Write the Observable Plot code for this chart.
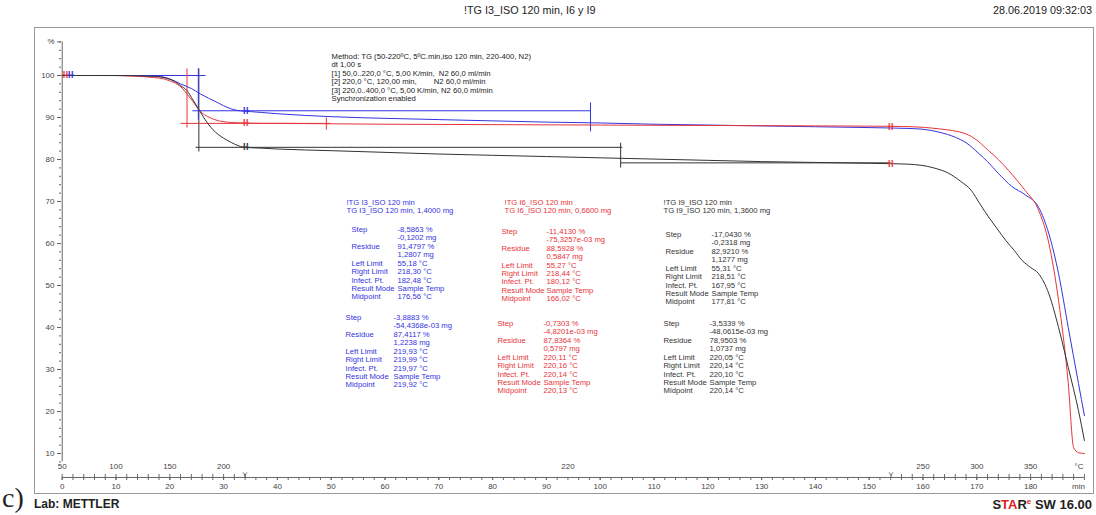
<!DOCTYPE html>
<html><head><meta charset="utf-8">
<script src="https://cdn.jsdelivr.net/npm/d3@7"></script>
<script src="https://cdn.jsdelivr.net/npm/@observablehq/plot@0.6"></script>
<style>
body{margin:0;width:1096px;height:515px;position:relative;background:#fff;overflow:hidden;font-family:"Liberation Sans",Arial,sans-serif;color:#222}
#title{position:absolute;left:464px;top:4px;font-size:10.8px}
#date{position:absolute;right:4px;top:4px;font-size:10.8px}
#frame{position:absolute;left:34px;top:27px;width:1058px;height:465px;border:1px solid #9a9a9a}
#chart{position:absolute;left:0;top:26px}
#c{position:absolute;left:2px;top:484px;font-family:"Liberation Serif",serif;font-size:28px;line-height:28px}
#lab{position:absolute;left:34px;top:497px;font-size:12px;font-weight:bold}
#star{position:absolute;right:4px;top:497px;font-size:13px;font-weight:bold}
#star .r{color:#e02020}
#star sup{font-size:8px;color:#e02020}
</style></head><body>
<div id="title">!TG I3_ISO 120 min, I6 y I9</div>
<div id="date">28.06.2019 09:32:03</div>
<div id="frame"></div>
<div id="chart"></div>
<div id="c">c)</div>
<div id="lab">Lab: METTLER</div>
<div id="star">S<span class="r">TA</span>R<sup>e</sup> SW 16.00</div>
<script>
// ---- data: time (min) and mass (%) ----
const seriesNames = ["I3", "I6", "I9"];
const colors = ["#3434e0", "#e8343a", "#333333"];

const tI3 = [0,5,10,13,16,18.3,20,22,24,25.7,27.2,28.8,30,31.3,32.5,33.8,35,37,40,45,50,60,70,80,90,100,110,120,130,140,150,154,157,160,163,166,168,170.4,172,174,176.5,179,181.5,183.4,185.2,187,188.9,190];
const pI3 = [100,100,100,99.97,99.9,99.75,99.2,98.0,96.9,95.6,94.6,93.6,92.8,92.1,91.7,91.5,91.4,91.2,90.9,90.5,90.2,89.8,89.5,89.2,88.9,88.7,88.4,88.2,88.0,87.8,87.6,87.5,87.4,87.2,86.5,85.3,84.0,81.4,79.5,76.7,73.6,71.6,68.6,62.3,52.8,40,26.7,19];

const tI6 = [0,5,10,12.7,15,17,18.9,20,21.4,22.3,23.2,24.3,25.5,26.5,27.6,28.8,30,31.5,33.8,35,37,40,50,60,80,100,120,140,154,158,163,168,170,172.2,174,175.9,177.5,179,181.5,183.4,185.2,187,188,188.9,190];
const pI6 = [100,100,99.98,99.9,99.75,99.5,99.2,98.7,97.9,97.0,95.6,93.8,91.7,90.6,89.9,89.3,89.0,88.8,88.7,88.65,88.6,88.6,88.5,88.4,88.3,88.2,88.1,88.0,87.9,87.8,87.3,86.1,84.6,82.1,80.0,77.4,75,72.6,67.9,60,46.4,26.7,11.4,10.2,10.0];

const tI9 = [0,5,10,13,16,18,19.5,21,22,23.2,24.3,25.5,26.5,27.6,28.5,29.5,30.5,31.5,32.5,33.8,35,37,40,50,60,70,80,90,100,110,120,130,140,150,154,157,159.8,162,164.8,167,169,170.5,172.2,173.8,175.4,177,178.4,180,181.5,183.4,185.2,187,188.9,190];
const pI9 = [100,100,100,99.95,99.85,99.7,99.3,98.5,97.6,96.4,94.2,91.7,89.6,87.7,86.5,85.5,84.7,84.0,83.4,82.9,82.8,82.7,82.5,82.1,81.7,81.3,81.0,80.7,80.4,80.1,79.8,79.5,79.3,79.1,79.0,78.9,78.6,78.0,76.7,74.8,72.6,69.6,66.3,63.5,60.7,58.3,56,54.3,52.8,48,40,30.5,20.2,13.1];

// evaluation (tangent / limit) segments: [t1, p1, t2, p2, series]
const evalSegs = [
  [0,100,26.6,100,"I9"], [0,100,26.6,100,"I3"],
  [25.4,101.7,25.4,81.9,"I9"], [25.3,101.7,25.3,89.5,"I3"],
  [24.2,91.6,98.2,91.6,"I3"], [98.2,93.6,98.2,86.7,"I3"],
  [23.2,101.7,23.2,87.6,"I6"], [22,88.6,49.9,88.6,"I6"], [49.1,90,49.1,87.1,"I6"],
  [24.8,82.9,104.1,82.9,"I9"], [103.8,84,103.8,78.1,"I9"], [103.8,79.2,154,79.2,"I9"]
];
// limit markers [t, p, series]
const limitMarks = [[0.6,100,"I6"],[1.6,100.2,"I3"],[34.1,91.5,"I3"],[34.1,88.7,"I6"],[34.1,82.85,"I9"],[154,87.8,"I6"],[154,79.0,"I6"]];

// temperature program: 50->220 at 5 K/min, 120 min iso, 220->400 at 5 K/min
const tempTicksRamp1 = d3.range(50, 221, 10);
const tempTicksRamp2 = d3.range(230, 401, 10);
const tempLabels = ["50","100","150","200","220","250","300","350","°C"];
const tempLabelTimes = [0,10,20,30,94,160,170,180,189];
const breakTimes = [34, 154];

const timeMajor = d3.range(0, 181, 10);
const timeMinor = d3.range(0, 191, 2);
const yMajor = [10,20,30,40,50,60,70,80,90,100,108];
const yMinor = d3.range(8, 109, 2);

// annotation text
const methodLines = ["Method: TG (50-220ºC, 5ºC.min,iso 120 min, 220-400, N2)","dt 1,00 s","[1] 50,0..220,0 °C, 5,00 K/min,  N2 60,0 ml/min","[2] 220,0 °C, 120,00 min,        N2 60,0 ml/min","[3] 220,0..400,0 °C, 5,00 K/min, N2 60,0 ml/min","Synchronization enabled"];
const resLabels = ["Step","","Residue","","Left Limit","Right Limit","Infect. Pt.","Result Mode","Midpoint"];
const headI3 = ["!TG I3_ISO 120 min","TG I3_ISO 120 min, 1,4000 mg"];
const vI3a = ["-8,5863 %","-0,1202 mg","91,4797 %","1,2807 mg","55,18 °C","218,30 °C","182,48 °C","Sample Temp","176,56 °C"];
const vI3b = ["-3,8883 %","-54,4368e-03 mg","87,4117 %","1,2238 mg","219,93 °C","219,99 °C","219,97 °C","Sample Temp","219,92 °C"];
const headI6 = ["!TG I6_ISO 120 min","TG I6_ISO 120 min, 0,6600 mg"];
const vI6a = ["-11,4130 %","-75,3257e-03 mg","88,5928 %","0,5847 mg","55,27 °C","218,44 °C","180,12 °C","Sample Temp","166,02 °C"];
const vI6b = ["-0,7303 %","-4,8201e-03 mg","87,8364 %","0,5797 mg","220,11 °C","220,16 °C","220,14 °C","Sample Temp","220,13 °C"];
const headI9 = ["!TG I9_ISO 120 min","TG I9_ISO 120 min, 1,3600 mg"];
const vI9a = ["-17,0430 %","-0,2318 mg","82,9210 %","1,1277 mg","55,31 °C","218,51 °C","167,95 °C","Sample Temp","177,81 °C"];
const vI9b = ["-3,5339 %","-48,0615e-03 mg","78,9503 %","1,0737 mg","220,05 °C","220,14 °C","220,10 °C","Sample Temp","220,14 °C"];

// ---- build tables ----
const curves = [];
[[tI3,pI3,"I3"],[tI6,pI6,"I6"],[tI9,pI9,"I9"]].forEach(([ts,ps,s]) => ts.forEach((t,i) => curves.push({t, p: ps[i], s})));
const segs = evalSegs.map(([t1,p1,t2,p2,s]) => ({t1,p1,t2,p2,s}));
const marksL = limitMarks.map(([t,p,s]) => ({t,p,s}));
const tempTickTimes = [...tempTicksRamp1.map(T => (T-50)/5), ...tempTicksRamp2.map(T => 154 + (T-220)/5)];
const tempLab = tempLabels.map((l,i) => ({t: tempLabelTimes[i], l}));

const AX = 4.29; // level (%) where the time axis sits
const FS = 7.7, LH = 1.1;
const txt = (lines, x, y, fill) => Plot.text([lines.join("\n")], {x: () => x, y: () => y, text: d => d, textAnchor: "start", lineAnchor: "top", lineHeight: LH, fontSize: FS, fill});

const svg = Plot.plot({
  width: 1096, height: 468,
  marginLeft: 61, marginRight: 10, marginTop: 0, marginBottom: 17,
  x: {domain: [0, 180], range: [61.7, 61.7 + 180*5.38]},
  y: {domain: [10, 100], range: [427, 49]},
  color: {domain: seriesNames, range: colors},
  style: {fontFamily: "'Liberation Sans', Arial, sans-serif", background: "transparent", overflow: "visible", color: "#444"},
  marks: [
    // y axis
    Plot.ruleX([0], {y1: 8, y2: 108, stroke: "#666", strokeWidth: 1}),
    Plot.axisY({anchor: "left", ticks: yMinor, tickSize: 2, tickFormat: () => "", stroke: "#666"}),
    Plot.axisY({anchor: "left", ticks: yMajor, tickSize: 4, tickPadding: 3, fontSize: 8, fill: "#444", stroke: "#666", tickFormat: d => d === 108 ? "%" : String(d)}),
    // x axis (time)
    Plot.ruleY([AX], {x1: 0, x2: 190, stroke: "#666"}),
    Plot.axisX({anchor: "bottom", ticks: timeMinor, tickSize: 3, tickFormat: () => "", stroke: "#666"}),
    Plot.axisX({anchor: "bottom", ticks: timeMajor, tickSize: 3, tickPadding: 3, fontSize: 8, fill: "#444", stroke: "#666"}),
    Plot.axisX({anchor: "bottom", ticks: [188.9], tickSize: 0, tickPadding: 6, fontSize: 8, fill: "#444", tickFormat: () => "min"}),
    // temperature ticks / labels
    Plot.ruleX(tempTickTimes, {x: d => d, y1: AX, y2: AX + 0.7, stroke: "#666"}),
    Plot.text(tempLab, {x: "t", y: AX, dy: -11, text: "l", fontSize: 8, fill: "#444"}),
    Plot.text(breakTimes, {x: d => d, y: AX, dy: -3, text: () => "⋎", fontSize: 8, fill: "#555"}),
    // evaluation lines
    Plot.link(segs, {x1: "t1", y1: "p1", x2: "t2", y2: "p2", stroke: "s", strokeWidth: 1}),
    // curves
    Plot.line(curves, {x: "t", y: "p", z: "s", stroke: "s", strokeWidth: 1, curve: "monotone-x"}),
    // limit markers
    Plot.text(marksL, {x: "t", y: "p", text: () => "ɫɫ", fill: "s", fontSize: 9, fontWeight: "bold"}),
    // annotation blocks
    txt(methodLines, 50.06, 105.43, "#222"),
    txt(headI3, 52.84, 70.67, colors[0]),
    txt(resLabels, 53.77, 64.24, colors[0]), txt(vI3a, 62.32, 64.24, colors[0]),
    txt(resLabels, 52.66, 43.29, colors[0]), txt(vI3b, 61.58, 43.29, colors[0]),
    txt(headI6, 82.21, 70.67, colors[1]),
    txt(resLabels, 81.65, 63.77, colors[1]), txt(vI6a, 90.02, 63.77, colors[1]),
    txt(resLabels, 80.91, 41.86, colors[1]), txt(vI6b, 89.46, 41.86, colors[1]),
    txt(headI9, 111.77, 70.67, colors[2]),
    txt(resLabels, 112.14, 63.05, colors[2]), txt(vI9a, 120.69, 63.05, colors[2]),
    txt(resLabels, 111.77, 41.86, colors[2]), txt(vI9b, 120.32, 41.86, colors[2])
  ]
});
document.getElementById("chart").appendChild(svg);
</script>
</body></html>
